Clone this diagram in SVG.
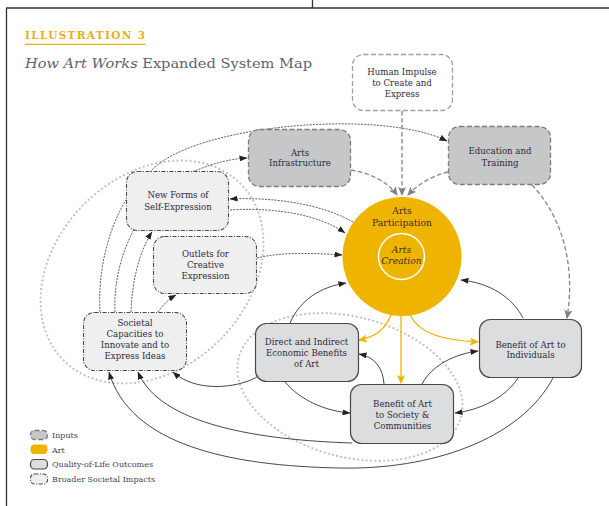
<svg xmlns="http://www.w3.org/2000/svg" width="609" height="506" viewBox="0 0 609 506">
<defs>
<marker id="ab" markerUnits="userSpaceOnUse" markerWidth="8" markerHeight="6" refX="7.5" refY="3" orient="auto"><path d="M0,0 L8,3 L0,6 z" fill="#222"/></marker>
<marker id="ag" markerUnits="userSpaceOnUse" markerWidth="9" markerHeight="8" refX="8" refY="4" orient="auto"><path d="M0,0 L9,4 L0,8 L2,4 z" fill="#808080"/></marker>
<marker id="ay" markerUnits="userSpaceOnUse" markerWidth="9" markerHeight="8" refX="8" refY="4" orient="auto"><path d="M0,0 L9,4 L0,8 L2,4 z" fill="#efb400"/></marker>
</defs>
<style>
.t{font-family:"DejaVu Serif","Liberation Serif",serif;font-size:8.6px;fill:#2c2c3c;text-anchor:middle}
.ct{font-family:"DejaVu Serif","Liberation Serif",serif;font-size:9.2px;fill:#3a3020;text-anchor:middle}
.lg{font-family:"DejaVu Serif","Liberation Serif",serif;font-size:8px;fill:#44445a}
.inp{fill:#c6c7c9;stroke:#7c7c7c;stroke-width:1.3;stroke-dasharray:5 2.5}
.qol{fill:#dcdddf;stroke:#4a4a4a;stroke-width:1.2}
.brd{fill:#efefef;stroke:#4a4a4a;stroke-width:1.1;stroke-dasharray:4 1.5 1 1.5}
.hum{fill:#fff;stroke:#a0a0a0;stroke-width:1.3;stroke-dasharray:5 2.5}
.dot{fill:none;stroke:#c4c4c4;stroke-width:2.2;stroke-linecap:round;stroke-dasharray:0.1 4.2}
.cd{fill:none;stroke:#333;stroke-width:0.8;stroke-dasharray:2 1.2}
.cs{fill:none;stroke:#333;stroke-width:0.9}
.cg{fill:none;stroke:#858585;stroke-width:1.3;stroke-dasharray:4.5 2.5}
.cy{fill:none;stroke:#efb400;stroke-width:1.3}
</style>
<rect x="0" y="0" width="609" height="506" fill="#fff"/>
<g id="frame" fill="none" stroke="#333" stroke-width="1.3">
<path d="M6,8 H609"/><path d="M6.5,8 V506"/><path d="M312.5,0 V8"/>
</g>
<g id="title">
<text x="25" y="38.5" font-family="DejaVu Serif, serif" font-weight="bold" font-size="10.5" fill="#e9b01c" textLength="120" lengthAdjust="spacing">ILLUSTRATION 3</text>
<path d="M25,44.3 H145.5" stroke="#e9b01c" stroke-width="1.2"/>
<text x="25" y="68.3" font-family="DejaVu Serif, serif" font-size="13.5" fill="#626272" textLength="287" lengthAdjust="spacingAndGlyphs"><tspan font-style="italic">How Art Works</tspan> Expanded System Map</text>
</g>
<g id="impacts">
<ellipse class="dot" cx="152" cy="272" rx="125" ry="96" transform="rotate(-45 152 272)"/>
<ellipse class="dot" cx="350" cy="387" rx="115" ry="70" transform="rotate(15 350 387)"/>
</g>
<g id="connectors">
<path class="cd" d="M100,312 C97,260 115,200 150,172 C190,125 380,108 447,141" marker-end="url(#ab)"/>
<path class="cd" d="M115,312 C112,250 150,185 197,170 C215,163 230,159 247,158" marker-end="url(#ab)"/>
<path class="cd" d="M131,312 C132,280 140,250 152,232" marker-end="url(#ab)"/>
<path class="cd" d="M158,312 C163,305 169,299 176,295" marker-end="url(#ab)"/>
<path class="cd" d="M353,222 C320,203 270,197 230,199" marker-end="url(#ab)"/>
<path class="cd" d="M230,210 C275,207 320,215 345,233" marker-end="url(#ab)"/>
<path class="cd" d="M257,258 C280,252 315,253 342,255" marker-end="url(#ab)"/>
<path class="cs" d="M290,323 C300,300 320,287 346,283" marker-end="url(#ab)"/>
<path class="cs" d="M523,318 C512,297 490,283 461,280" marker-end="url(#ab)"/>
<path class="cs" d="M384,384 C383,368 375,357 359,354" marker-end="url(#ab)"/>
<path class="cs" d="M422,384 C432,365 455,354 478,351" marker-end="url(#ab)"/>
<path class="cs" d="M518,378 C505,398 480,410 455,413" marker-end="url(#ab)"/>
<path class="cs" d="M285,382 C300,400 325,411 350,413" marker-end="url(#ab)"/>
<path class="cs" d="M257,377 C235,389 195,392 173,372" marker-end="url(#ab)"/>
<path class="cs" d="M352,443 C260,440 160,425 138,372" marker-end="url(#ab)"/>
<path class="cs" d="M553,378 C520,440 430,470 340,468 C230,466 130,445 109,372" marker-end="url(#ab)"/>
<path class="cg" d="M402,111 L402,195" marker-end="url(#ag)"/>
<path class="cg" d="M351,170 C370,173 388,182 397,195" marker-end="url(#ag)"/>
<path class="cg" d="M448,172 C432,176 418,184 408,195" marker-end="url(#ag)"/>
<path class="cg" d="M532,185 C565,220 575,270 567,318" marker-end="url(#ag)"/>
<path class="cy" d="M401,316 L401,383" marker-end="url(#ay)"/>
<path class="cy" d="M391,315 C385,330 375,337 359,340" marker-end="url(#ay)"/>
<path class="cy" d="M410,315 C420,335 445,340 478,342" marker-end="url(#ay)"/>
</g>
<g id="human-impulse"><rect class="hum" x="352.5" y="54.5" width="100" height="56" rx="11"/><text class="t" x="402" y="75">Human Impulse</text><text class="t" x="402" y="86">to Create and</text><text class="t" x="402" y="97">Express</text></g>
<g id="education"><rect class="inp" x="448.5" y="126.5" width="102" height="58" rx="11"/><text class="t" x="500" y="154">Education and</text><text class="t" x="500" y="166">Training</text></g>
<g id="infrastructure"><rect class="inp" x="248.5" y="129.5" width="102" height="57" rx="11"/><text class="t" x="300" y="155.5">Arts</text><text class="t" x="300" y="166">Infrastructure</text></g>
<g id="new-forms"><rect class="brd" x="126.5" y="171.5" width="102" height="59" rx="11"/><text class="t" x="178" y="198">New Forms of</text><text class="t" x="178" y="209.7">Self-Expression</text></g>
<g id="outlets"><rect class="brd" x="153.5" y="236.5" width="103" height="57" rx="11"/><text class="t" x="205.5" y="256.5">Outlets for</text><text class="t" x="205.5" y="268">Creative</text><text class="t" x="205.5" y="279">Expression</text></g>
<g id="societal"><rect class="brd" x="83.5" y="312.5" width="103" height="58" rx="11"/><text class="t" x="135" y="326">Societal</text><text class="t" x="135" y="337">Capacities to</text><text class="t" x="135" y="348">Innovate and to</text><text class="t" x="135" y="359">Express Ideas</text></g>
<g id="economic"><rect class="qol" x="255.5" y="323.5" width="103" height="58" rx="11"/><text class="t" x="306.5" y="345">Direct and Indirect</text><text class="t" x="306.5" y="355.5">Economic Benefits</text><text class="t" x="306.5" y="366.5">of Art</text></g>
<g id="individuals"><rect class="qol" x="479.5" y="319.5" width="102" height="58" rx="11"/><text class="t" x="530.5" y="347.5">Benefit of Art to</text><text class="t" x="530.5" y="358">Individuals</text></g>
<g id="society"><rect class="qol" x="350.5" y="384.5" width="103" height="59" rx="11"/><text class="t" x="402.5" y="406.5">Benefit of Art</text><text class="t" x="402.5" y="417.5">to Society &amp;</text><text class="t" x="402.5" y="428.5">Communities</text></g>
<g id="arts-participation"><circle cx="402" cy="256.5" r="59.5" fill="#efb400"/><circle cx="401.5" cy="256.5" r="23" fill="none" stroke="#fff" stroke-width="1.5"/><text class="ct" x="402" y="214">Arts</text><text class="ct" x="402" y="225.5">Participation</text><text class="ct" x="401.5" y="252.5" font-style="italic" font-size="8.6">Arts</text><text class="ct" x="401.5" y="264" font-style="italic" font-size="8.6">Creation</text></g>
<g id="legend">
<rect class="inp" x="30.5" y="430.5" width="17" height="9" rx="4"/><text class="lg" x="52" y="437.5">Inputs</text>
<rect x="30.5" y="444.5" width="17" height="9.5" rx="4" fill="#efb400"/><text class="lg" x="52" y="452.5">Art</text>
<rect class="qol" x="30.5" y="459.5" width="17" height="9.5" rx="4"/><text class="lg" x="52" y="466.5">Quality-of-Life Outcomes</text>
<rect class="brd" x="30.5" y="474" width="17" height="10" rx="4"/><text class="lg" x="52" y="481.5">Broader Societal Impacts</text>
</g>
</svg>
